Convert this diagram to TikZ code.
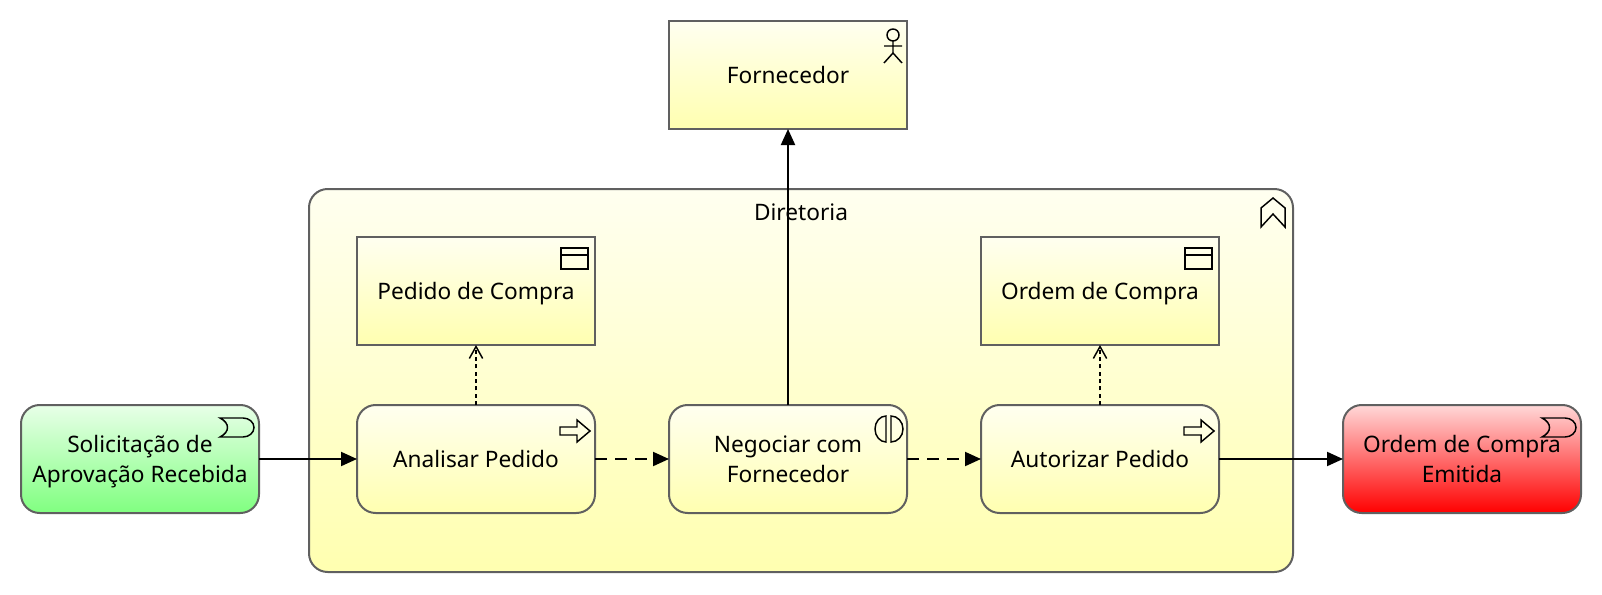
\documentclass[tikz,border=0pt]{standalone}
\usepackage{fontspec}
\setmainfont{Noto Sans}
\usetikzlibrary{arrows.meta}

\definecolor{edge}{RGB}{96,96,96}
\definecolor{paletop}{RGB}{255,255,240}
\definecolor{palebottom}{RGB}{255,255,176}
\definecolor{greentop}{RGB}{232,255,232}
\definecolor{greenbottom}{RGB}{128,255,128}
\definecolor{redtop}{RGB}{255,216,216}
\definecolor{redbottom}{RGB}{255,0,0}

\begin{document}
\begin{tikzpicture}[x=0.75pt, y=0.75pt]
  \tikzset{
    font={\fontsize{17pt}{22.5pt}\selectfont},
    basebox/.style={draw=edge, line width=1.5pt, inner sep=0pt, outer sep=0pt,
      minimum width=178.5pt, minimum height=81pt, align=center, text depth=0pt,
      top color=paletop, bottom color=palebottom},
    objectbox/.style={basebox},
    processbox/.style={basebox, rounded corners=14pt},
    startbox/.style={processbox, top color=greentop, bottom color=greenbottom},
    endbox/.style={processbox, top color=redtop, bottom color=redbottom},
    groupbox/.style={basebox, rounded corners=14pt, minimum width=738pt, minimum height=287.25pt},
    flow/.style={line width=1.5pt, -{Triangle[length=12pt,width=10.5pt]}},
    trigger/.style={flow, dash pattern=on 9pt off 6pt},
    access/.style={line width=1.1pt, dash pattern=on 3pt off 2.5pt,
      -{Straight Barb[length=9pt,width=10pt]}},
    icon/.style={draw=black, line width=1.1pt},
  }

  \useasboundingbox (0,0) rectangle (1602,594);

  % actor and group
  \node[objectbox] (fornecedor) at (788,519) {Fornecedor};
  \node[groupbox] (diretoria) at (801,213.5) {};
  \node (diretoria_label) at (801,382) {Diretoria};

  % objects
  \node[objectbox] (pedido) at (476,303) {Pedido de Compra};
  \node[objectbox] (ordem) at (1100,303) {Ordem de Compra};

  % process row
  \node[startbox] (solicitacao) at (140,135) {Solicitação de\\Aprovação Recebida};
  \node[processbox] (analisar) at (476,135) {Analisar Pedido};
  \node[processbox] (negociar) at (788,135) {Negociar com\\Fornecedor};
  \node[processbox] (autorizar) at (1100,135) {Autorizar Pedido};
  \node[endbox] (emitida) at (1462,135) {Ordem de Compra\\Emitida};

  % connectors
  \draw[flow] (solicitacao) -- (analisar);
  \draw[trigger] (analisar) -- (negociar);
  \draw[trigger] (negociar) -- (autorizar);
  \draw[flow] (autorizar) -- (emitida);
  \draw[flow] (negociar) -- (fornecedor);
  \draw[access] (analisar) -- (pedido);
  \draw[access] (autorizar) -- (ordem);

  % actor icon
  \draw[icon] (893,559) circle (6);
  \draw[icon] (893,553) -- (893,541) -- (884,531) (893,541) -- (902,531) (884,548) -- (902,548);

  % group icon
  \draw[icon] (1261,367) -- (1261,386) -- (1273,396) -- (1285,386) -- (1285,367) -- (1273,380) -- cycle;

  % object icons
  \foreach \n in {0,624} {
    \begin{scope}[xshift=\n*0.75pt]
      \draw[icon] (561,325) rectangle (588,346);
      \draw[icon] (561,339) -- (588,339);
    \end{scope}
  }

  % process icons
  \foreach \n in {0,624} {
    \begin{scope}[xshift=\n*0.75pt]
      \draw[icon] (560,167) -- (577,167) -- (577,174) -- (590,163) -- (577,152) -- (577,159) -- (560,159) -- cycle;
    \end{scope}
  }

  % interaction icon
  \draw[icon] (886,178) arc (90:270:11 and 13) -- cycle;
  \draw[icon] (891,178) arc (90:-90:12 and 13) -- cycle;

  % event icons
  \foreach \n in {0,1322} {
    \begin{scope}[xshift=\n*0.75pt]
      \draw[icon] (220,176) -- (243,176) arc (90:-90:11 and 9.5) -- (220,157)
        .. controls (230,162) and (230,171) .. cycle;
    \end{scope}
  }
\end{tikzpicture}
\end{document}
